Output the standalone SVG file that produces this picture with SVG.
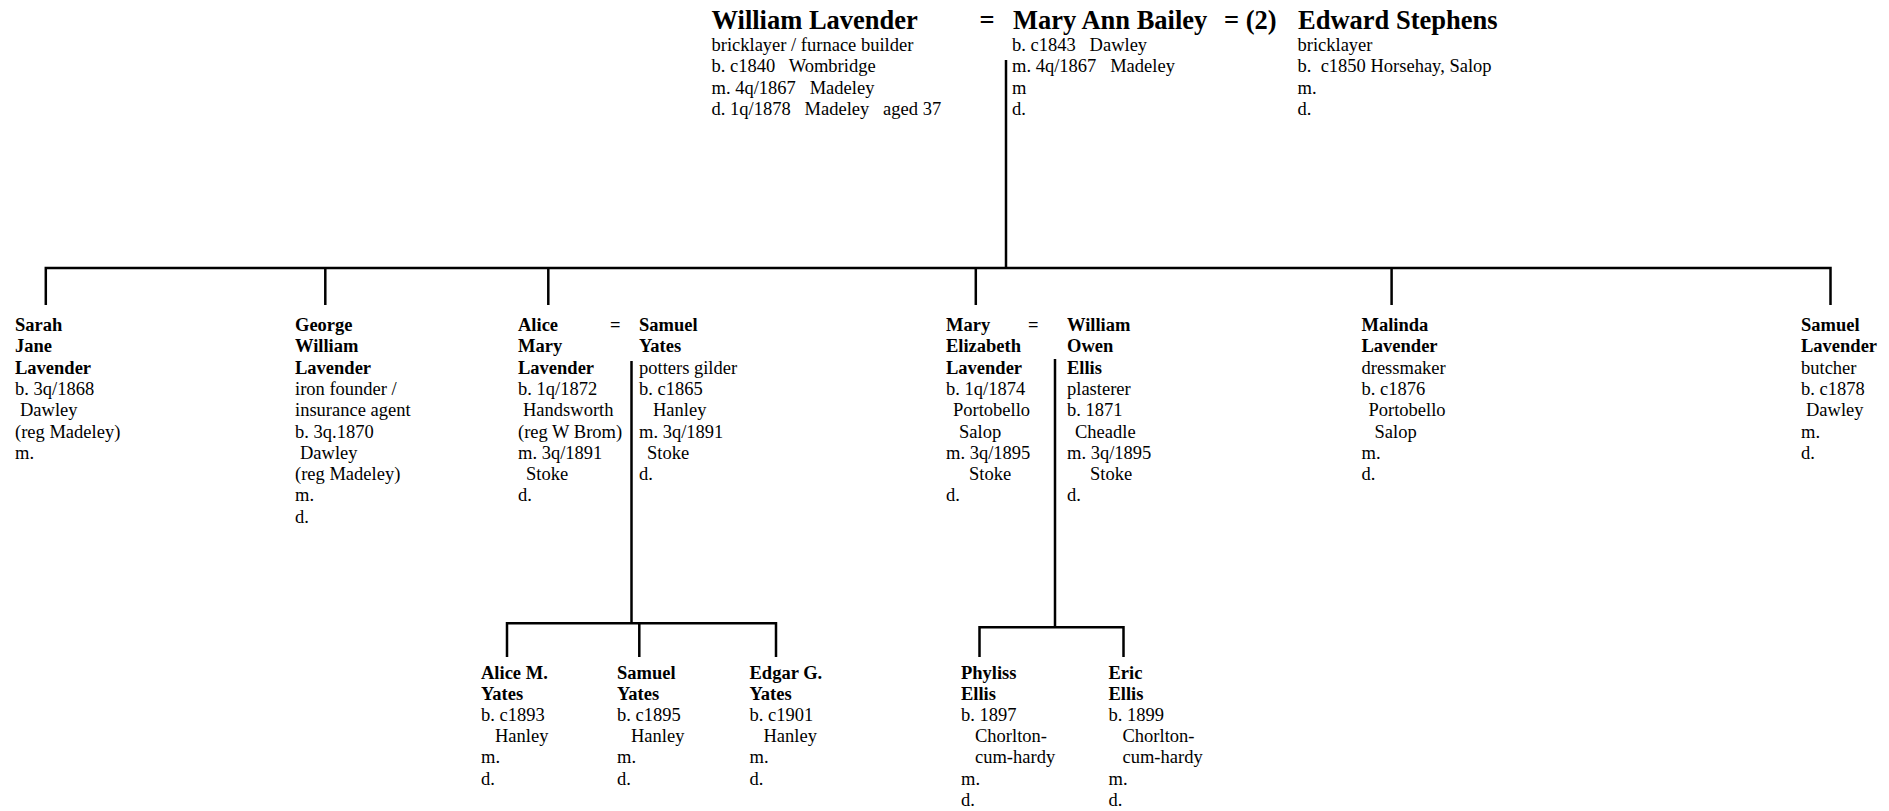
<svg xmlns="http://www.w3.org/2000/svg" width="1889" height="811" viewBox="0 0 1889 811">
<style>
text{font-family:"Liberation Serif","Times New Roman",serif;fill:#000;font-size:18.5px;white-space:pre}
.b{font-weight:bold}
.h{font-weight:bold;font-size:26.5px}
.c path{stroke:#000;stroke-width:2.5;fill:none}
</style>
<rect width="1889" height="811" fill="#fff"/>
<g class="c" id="connectors">
<path d="M1006 60V268"/>
<path d="M45.8 305V268H1830.5V305"/>
<path d="M325.3 268V305M548.3 268V305M975.8 268V305M1391.6 268V305"/>
<path d="M631.5 361V623.3"/>
<path d="M507 657V623.3H776V657M639.3 623.3V657"/>
<path d="M1055 359V627.3"/>
<path d="M979.5 657V627.3H1123.5V657"/>
</g>
<g id="william-lavender">
<text class="h" x="711.5" y="28.5">William Lavender</text>
<text x="711.5" y="50.5">bricklayer / furnace builder</text>
<text x="711.5" y="72" xml:space="preserve">b. c1840   Wombridge</text>
<text x="711.5" y="93.5" xml:space="preserve">m. 4q/1867   Madeley</text>
<text x="711.5" y="115" xml:space="preserve">d. 1q/1878   Madeley   aged 37</text>
</g>
<g id="marriage-1"><text class="h" x="979.5" y="28.5">=</text></g>
<g id="mary-ann-bailey">
<text class="h" x="1013" y="28.5">Mary Ann Bailey</text>
<text x="1012" y="50.5" xml:space="preserve">b. c1843   Dawley</text>
<text x="1012" y="72" xml:space="preserve">m. 4q/1867   Madeley</text>
<text x="1012" y="93.5">m</text>
<text x="1012" y="115">d.</text>
</g>
<g id="marriage-2"><text class="h" x="1224" y="28.5">= (2)</text></g>
<g id="edward-stephens">
<text class="h" x="1298" y="28.5">Edward Stephens</text>
<text x="1297.5" y="50.5">bricklayer</text>
<text x="1297.5" y="72" xml:space="preserve">b.  c1850 Horsehay, Salop</text>
<text x="1297.5" y="93.5">m.</text>
<text x="1297.5" y="115">d.</text>
</g>
<g id="sarah-jane-lavender">
<text class="b" x="15" y="331">Sarah</text>
<text class="b" x="15" y="352.3">Jane</text>
<text class="b" x="15" y="373.6">Lavender</text>
<text x="15" y="394.9">b. 3q/1868</text>
<text x="20" y="416.2">Dawley</text>
<text x="15" y="437.5">(reg Madeley)</text>
<text x="15" y="458.8">m.</text>
</g>
<g id="george-william-lavender">
<text class="b" x="295" y="331">George</text>
<text class="b" x="295" y="352.3">William</text>
<text class="b" x="295" y="373.6">Lavender</text>
<text x="295" y="394.9">iron founder /</text>
<text x="295" y="416.2">insurance agent</text>
<text x="295" y="437.5">b. 3q.1870</text>
<text x="300" y="458.8">Dawley</text>
<text x="295" y="480.1">(reg Madeley)</text>
<text x="295" y="501.4">m.</text>
<text x="295" y="522.7">d.</text>
</g>
<g id="alice-mary-lavender">
<text class="b" x="518" y="331">Alice</text>
<text class="b" x="518" y="352.3">Mary</text>
<text class="b" x="518" y="373.6">Lavender</text>
<text x="518" y="394.9">b. 1q/1872</text>
<text x="523" y="416.2">Handsworth</text>
<text x="518" y="437.5">(reg W Brom)</text>
<text x="518" y="458.8">m. 3q/1891</text>
<text x="526" y="480.1">Stoke</text>
<text x="518" y="501.4">d.</text>
</g>
<g id="marriage-3"><text class="b" x="610" y="331">=</text></g>
<g id="samuel-yates">
<text class="b" x="639" y="331">Samuel</text>
<text class="b" x="639" y="352.3">Yates</text>
<text x="639" y="373.6">potters gilder</text>
<text x="639" y="394.9">b. c1865</text>
<text x="653" y="416.2">Hanley</text>
<text x="639" y="437.5">m. 3q/1891</text>
<text x="647" y="458.8">Stoke</text>
<text x="639" y="480.1">d.</text>
</g>
<g id="mary-elizabeth-lavender">
<text class="b" x="946" y="331">Mary</text>
<text class="b" x="946" y="352.3">Elizabeth</text>
<text class="b" x="946" y="373.6">Lavender</text>
<text x="946" y="394.9">b. 1q/1874</text>
<text x="953" y="416.2">Portobello</text>
<text x="959" y="437.5">Salop</text>
<text x="946" y="458.8">m. 3q/1895</text>
<text x="969" y="480.1">Stoke</text>
<text x="946" y="501.4">d.</text>
</g>
<g id="marriage-4"><text class="b" x="1028" y="331">=</text></g>
<g id="william-owen-ellis">
<text class="b" x="1067" y="331">William</text>
<text class="b" x="1067" y="352.3">Owen</text>
<text class="b" x="1067" y="373.6">Ellis</text>
<text x="1067" y="394.9">plasterer</text>
<text x="1067" y="416.2">b. 1871</text>
<text x="1075" y="437.5">Cheadle</text>
<text x="1067" y="458.8">m. 3q/1895</text>
<text x="1090" y="480.1">Stoke</text>
<text x="1067" y="501.4">d.</text>
</g>
<g id="malinda-lavender">
<text class="b" x="1361.5" y="331">Malinda</text>
<text class="b" x="1361.5" y="352.3">Lavender</text>
<text x="1361.5" y="373.6">dressmaker</text>
<text x="1361.5" y="394.9">b. c1876</text>
<text x="1368.5" y="416.2">Portobello</text>
<text x="1374.5" y="437.5">Salop</text>
<text x="1361.5" y="458.8">m.</text>
<text x="1361.5" y="480.1">d.</text>
</g>
<g id="samuel-lavender">
<text class="b" x="1801" y="331">Samuel</text>
<text class="b" x="1801" y="352.3">Lavender</text>
<text x="1801" y="373.6">butcher</text>
<text x="1801" y="394.9">b. c1878</text>
<text x="1806" y="416.2">Dawley</text>
<text x="1801" y="437.5">m.</text>
<text x="1801" y="458.8">d.</text>
</g>
<g id="alice-m-yates">
<text class="b" x="481" y="678.5">Alice M.</text>
<text class="b" x="481" y="699.7">Yates</text>
<text x="481" y="720.9">b. c1893</text>
<text x="495" y="742.1">Hanley</text>
<text x="481" y="763.3">m.</text>
<text x="481" y="784.5">d.</text>
</g>
<g id="samuel-yates-jr">
<text class="b" x="617" y="678.5">Samuel</text>
<text class="b" x="617" y="699.7">Yates</text>
<text x="617" y="720.9">b. c1895</text>
<text x="631" y="742.1">Hanley</text>
<text x="617" y="763.3">m.</text>
<text x="617" y="784.5">d.</text>
</g>
<g id="edgar-g-yates">
<text class="b" x="749.5" y="678.5">Edgar G.</text>
<text class="b" x="749.5" y="699.7">Yates</text>
<text x="749.5" y="720.9">b. c1901</text>
<text x="763.5" y="742.1">Hanley</text>
<text x="749.5" y="763.3">m.</text>
<text x="749.5" y="784.5">d.</text>
</g>
<g id="phyliss-ellis">
<text class="b" x="961" y="678.5">Phyliss</text>
<text class="b" x="961" y="699.7">Ellis</text>
<text x="961" y="720.9">b. 1897</text>
<text x="975" y="742.1">Chorlton-</text>
<text x="975" y="763.3">cum-hardy</text>
<text x="961" y="784.5">m.</text>
<text x="961" y="805.7">d.</text>
</g>
<g id="eric-ellis">
<text class="b" x="1108.5" y="678.5">Eric</text>
<text class="b" x="1108.5" y="699.7">Ellis</text>
<text x="1108.5" y="720.9">b. 1899</text>
<text x="1122.5" y="742.1">Chorlton-</text>
<text x="1122.5" y="763.3">cum-hardy</text>
<text x="1108.5" y="784.5">m.</text>
<text x="1108.5" y="805.7">d.</text>
</g>
</svg>
